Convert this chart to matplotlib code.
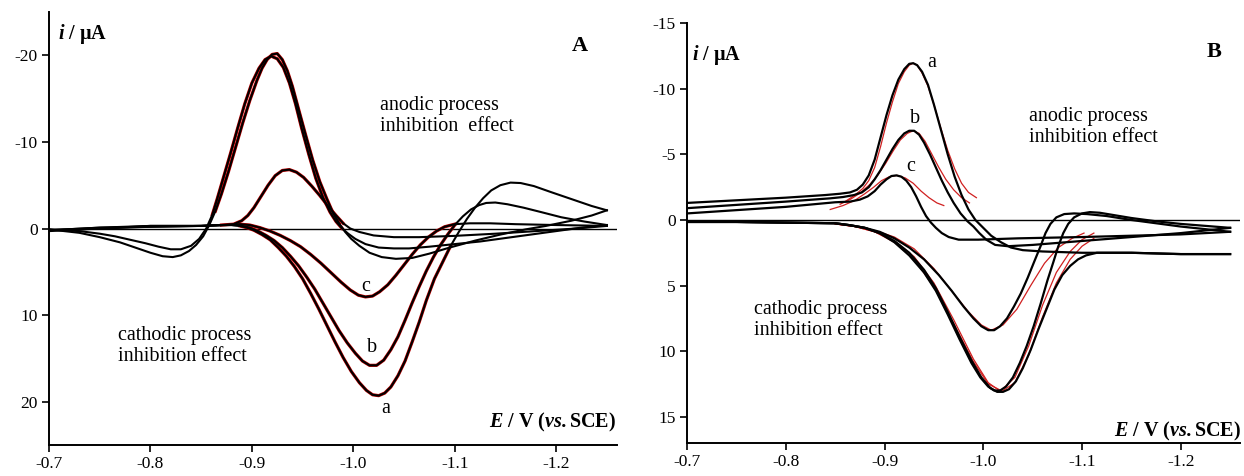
import numpy as np
import matplotlib.pyplot as plt

plt.rcParams['font.family'] = ['Liberation Serif', 'DejaVu Serif']
plt.rcParams['mathtext.fontset'] = 'custom'
plt.rcParams['mathtext.rm'] = 'Liberation Serif'
plt.rcParams['mathtext.it'] = 'Liberation Serif:italic'
plt.rcParams['mathtext.bf'] = 'Liberation Serif:bold'
plt.rcParams['mathtext.bfit'] = 'Liberation Serif:bold:italic'

# ---------------- panel A : potential (V) and current (uA) ----------------
A_a_fwd_E = [-0.700, -0.750, -0.800, -0.850, -0.870, -0.880, -0.888, -0.895, -0.902, -0.910, -0.918, -0.926,
             -0.934, -0.942, -0.950, -0.958, -0.966, -0.974, -0.982, -0.990, -0.998, -1.006, -1.013, -1.019,
             -1.025, -1.031, -1.037, -1.044, -1.051, -1.058, -1.065, -1.072, -1.080, -1.088, -1.096, -1.104,
             -1.112, -1.120, -1.128, -1.136, -1.145, -1.155, -1.165, -1.178, -1.195, -1.215, -1.235, -1.250]
A_a_fwd_i = [0.3, 0.0, -0.3, -0.3, -0.4, -0.4, -0.3, -0.1, 0.2, 0.7, 1.3, 2.2,
             3.2, 4.4, 5.8, 7.5, 9.3, 11.2, 13.1, 14.9, 16.5, 17.8, 18.7, 19.2,
             19.3, 19.0, 18.3, 17.0, 15.3, 13.1, 10.8, 8.3, 5.8, 3.9, 2.0, 0.4,
             -1.1, -2.4, -3.5, -4.4, -5.0, -5.3, -5.25, -4.9, -4.2, -3.4, -2.6, -2.1]
A_a_ret_E = [-1.250, -1.235, -1.215, -1.190, -1.170, -1.145, -1.120, -1.095, -1.075, -1.058, -1.042, -1.028,
             -1.016, -1.006, -0.998, -0.992, -0.986, -0.980, -0.974, -0.967, -0.960, -0.953, -0.946, -0.940,
             -0.935, -0.930, -0.925, -0.920, -0.915, -0.910, -0.905, -0.898, -0.891, -0.884, -0.877, -0.870,
             -0.864, -0.858, -0.852, -0.845, -0.838, -0.830, -0.822, -0.812, -0.800, -0.785, -0.770, -0.750,
             -0.730, -0.700]
A_a_ret_i = [-2.1, -1.5, -0.9, -0.3, 0.1, 0.7, 1.4, 2.2, 2.9, 3.4, 3.5, 3.3,
             2.8, 2.0, 1.2, 0.4, -0.6, -1.8, -3.4, -5.4, -7.9, -10.8, -13.8, -16.4,
             -18.2, -19.5, -20.2, -20.1, -19.5, -18.5, -17.1, -14.8, -12.2, -9.4, -6.6, -4.0,
             -2.0, -0.4, 0.9, 1.9, 2.6, 3.1, 3.3, 3.2, 2.8, 2.2, 1.6, 1.0,
             0.5, 0.1]

A_b_fwd_E = [-0.700, -0.750, -0.800, -0.850, -0.870, -0.880, -0.890, -0.898, -0.906, -0.914, -0.922, -0.930,
             -0.938, -0.946, -0.954, -0.962, -0.970, -0.978, -0.986, -0.994, -1.002, -1.009, -1.016, -1.023,
             -1.030, -1.037, -1.044, -1.051, -1.058, -1.065, -1.072, -1.079, -1.086, -1.093, -1.100, -1.108,
             -1.116, -1.124, -1.131, -1.140, -1.152, -1.168, -1.185, -1.205, -1.228, -1.250]
A_b_fwd_i = [0.2, -0.1, -0.3, -0.3, -0.4, -0.4, -0.3, -0.1, 0.3, 0.8, 1.4, 2.2,
             3.2, 4.3, 5.6, 7.0, 8.6, 10.2, 11.8, 13.2, 14.4, 15.3, 15.8, 15.8,
             15.2, 14.0, 12.5, 10.6, 8.6, 6.7, 4.9, 3.3, 1.9, 0.7, -0.4, -1.4,
             -2.2, -2.7, -2.95, -3.0, -2.8, -2.4, -1.9, -1.3, -0.8, -0.4]
A_b_ret_E = [-1.250, -1.225, -1.200, -1.175, -1.150, -1.125, -1.100, -1.075, -1.055, -1.040, -1.025, -1.012,
             -1.002, -0.995, -0.989, -0.983, -0.977, -0.970, -0.963, -0.956, -0.949, -0.943, -0.937, -0.931,
             -0.925, -0.919, -0.913, -0.907, -0.900, -0.893, -0.886, -0.879, -0.872, -0.866, -0.861, -0.855,
             -0.848, -0.840, -0.830, -0.820, -0.808, -0.795, -0.780, -0.765, -0.750, -0.730, -0.700]
A_b_ret_i = [-0.4, -0.1, 0.3, 0.7, 1.1, 1.5, 1.8, 2.1, 2.3, 2.3, 2.2, 1.8,
             1.2, 0.6, 0.0, -0.8, -1.9, -3.6, -5.8, -8.6, -11.6, -14.4, -16.8, -18.6,
             -19.6, -19.9, -19.5, -18.5, -16.8, -14.4, -11.6, -8.7, -5.9, -3.5, -1.6, 0.0,
             1.2, 2.0, 2.4, 2.4, 2.1, 1.7, 1.3, 0.9, 0.6, 0.3, 0.1]

A_c_fwd_E = [-0.700, -0.750, -0.800, -0.850, -0.875, -0.888, -0.898, -0.908, -0.918, -0.928, -0.938, -0.948,
             -0.958, -0.968, -0.978, -0.988, -0.997, -1.005, -1.012, -1.019, -1.026, -1.034, -1.042, -1.050,
             -1.058, -1.066, -1.074, -1.082, -1.090, -1.100, -1.115, -1.135, -1.160, -1.200, -1.250]
A_c_fwd_i = [0.2, -0.1, -0.2, -0.3, -0.4, -0.5, -0.4, -0.1, 0.3, 0.8, 1.4, 2.1,
             3.0, 4.0, 5.1, 6.2, 7.1, 7.7, 7.9, 7.8, 7.3, 6.5, 5.4, 4.2,
             3.0, 1.9, 1.0, 0.3, -0.2, -0.5, -0.6, -0.6, -0.5, -0.4, -0.3]
A_c_ret_E = [-1.250, -1.220, -1.180, -1.140, -1.100, -1.065, -1.040, -1.020, -1.006, -0.997, -0.990, -0.983,
             -0.975, -0.967, -0.959, -0.951, -0.944, -0.937, -0.930, -0.923, -0.916, -0.909, -0.902, -0.896,
             -0.890, -0.882, -0.870, -0.850, -0.800, -0.750, -0.700]
A_c_ret_i = [-0.3, 0.0, 0.3, 0.6, 0.85, 1.0, 1.0, 0.8, 0.4, 0.0, -0.6, -1.5,
             -2.6, -3.8, -4.9, -5.9, -6.5, -6.8, -6.7, -6.1, -5.0, -3.7, -2.4, -1.5,
             -0.9, -0.5, -0.4, -0.3, -0.2, 0.0, 0.2]

# ---------------- panel B ----------------
B_a_fwd_E = [-0.700, -0.750, -0.800, -0.850, -0.865, -0.880, -0.895, -0.910, -0.925, -0.940, -0.952, -0.964,
             -0.976, -0.988, -0.998, -1.007, -1.014, -1.020, -1.026, -1.033, -1.040, -1.048, -1.056, -1.064,
             -1.072, -1.080, -1.088, -1.096, -1.104, -1.115, -1.150, -1.200, -1.250]
B_a_fwd_i = [0.15, 0.15, 0.2, 0.25, 0.4, 0.6, 1.0, 1.6, 2.5, 3.8, 5.2, 7.0,
             8.9, 10.7, 12.0, 12.8, 13.1, 13.1, 12.9, 12.3, 11.3, 9.9, 8.3, 6.8,
             5.3, 4.2, 3.5, 3.0, 2.7, 2.5, 2.5, 2.6, 2.6]
B_a_ret_E = [-1.250, -1.200, -1.150, -1.100, -1.060, -1.040, -1.028, -1.018, -1.008, -1.000, -0.992, -0.985,
             -0.978, -0.971, -0.964, -0.957, -0.950, -0.944, -0.938, -0.933, -0.929, -0.925, -0.920, -0.914,
             -0.908, -0.902, -0.896, -0.890, -0.884, -0.878, -0.872, -0.865, -0.855, -0.840, -0.800, -0.750,
             -0.700]
B_a_ret_i = [2.6, 2.6, 2.5, 2.5, 2.4, 2.3, 2.1, 1.7, 1.2, 0.6, 0.0, -0.8,
             -1.9, -3.3, -5.0, -6.9, -8.8, -10.3, -11.3, -11.8, -11.95, -11.9, -11.5, -10.7,
             -9.5, -8.0, -6.3, -4.6, -3.4, -2.7, -2.3, -2.1, -2.0, -1.9, -1.7, -1.5,
             -1.3]

B_b_fwd_E = [-0.700, -0.750, -0.800, -0.850, -0.865, -0.880, -0.895, -0.910, -0.925, -0.940, -0.952, -0.964,
             -0.976, -0.988, -0.997, -1.005, -1.011, -1.017, -1.023, -1.030, -1.037, -1.044, -1.051, -1.058,
             -1.065, -1.071, -1.076, -1.081, -1.086, -1.092, -1.100, -1.108, -1.118, -1.130, -1.150, -1.175,
             -1.200, -1.225, -1.250]
B_b_fwd_i = [0.15, 0.15, 0.2, 0.25, 0.4, 0.6, 1.0, 1.7, 2.7, 4.0, 5.4, 7.2,
             9.1, 10.9, 12.0, 12.7, 13.0, 13.0, 12.7, 12.0, 10.9, 9.6, 8.1, 6.4,
             4.6, 3.2, 2.0, 1.0, 0.3, -0.2, -0.5, -0.6, -0.55, -0.4, -0.15, 0.1,
             0.3, 0.45, 0.6]
B_b_ret_E = [-1.250, -1.200, -1.150, -1.100, -1.050, -1.025, -1.012, -1.003, -0.996, -0.990, -0.984, -0.977,
             -0.970, -0.964, -0.958, -0.952, -0.946, -0.940, -0.935, -0.930, -0.925, -0.920, -0.914, -0.908,
             -0.902, -0.896, -0.890, -0.884, -0.877, -0.869, -0.858, -0.845, -0.800, -0.750, -0.700]
B_b_ret_i = [0.6, 1.0, 1.3, 1.6, 1.9, 2.0, 1.9, 1.5, 1.0, 0.5, 0.1, -0.5,
             -1.3, -2.1, -3.0, -4.0, -5.0, -5.9, -6.5, -6.8, -6.8, -6.6, -6.1, -5.4,
             -4.6, -3.8, -3.1, -2.5, -2.1, -1.9, -1.75, -1.65, -1.4, -1.15, -0.9]

B_c_fwd_E = [-0.700, -0.750, -0.800, -0.850, -0.865, -0.880, -0.895, -0.910, -0.925, -0.940, -0.955, -0.968,
             -0.980, -0.990, -0.998, -1.005, -1.011, -1.017, -1.024, -1.031, -1.038, -1.045, -1.052, -1.058,
             -1.063, -1.068, -1.074, -1.082, -1.092, -1.105, -1.125, -1.150, -1.200, -1.250]
B_c_fwd_i = [0.15, 0.15, 0.2, 0.25, 0.4, 0.6, 0.9, 1.4, 2.1, 3.0, 4.2, 5.4,
             6.6, 7.5, 8.1, 8.4, 8.4, 8.1, 7.5, 6.6, 5.6, 4.4, 3.1, 2.0,
             1.0, 0.3, -0.2, -0.45, -0.5, -0.45, -0.3, 0.0, 0.5, 0.9]
B_c_ret_E = [-1.250, -1.200, -1.100, -1.035, -0.995, -0.975, -0.965, -0.958, -0.952, -0.947, -0.942, -0.937,
             -0.932, -0.927, -0.922, -0.917, -0.912, -0.907, -0.902, -0.896, -0.890, -0.883, -0.875, -0.865,
             -0.850, -0.800, -0.750, -0.700]
B_c_ret_i = [0.9, 1.1, 1.3, 1.4, 1.5, 1.5, 1.3, 1.0, 0.6, 0.2, -0.3, -1.0,
             -1.8, -2.5, -3.0, -3.3, -3.4, -3.35, -3.1, -2.7, -2.2, -1.8, -1.55, -1.4,
             -1.35, -1.0, -0.75, -0.5]

# fitted (red) peaks in panel B
fitB_a_an_E = [-0.860, -0.870, -0.878, -0.884, -0.890, -0.896, -0.902, -0.908, -0.914, -0.920, -0.925, -0.929,
               -0.933, -0.938, -0.944, -0.950, -0.957, -0.964, -0.971, -0.978, -0.985, -0.993]
fitB_a_an_i = [-1.4, -1.9, -2.4, -3.0, -4.0, -5.6, -7.4, -9.0, -10.4, -11.3, -11.8, -11.95,
               -11.8, -11.2, -10.2, -8.8, -7.0, -5.3, -3.9, -2.8, -2.1, -1.7]
fitB_b_an_E = [-0.855, -0.866, -0.876, -0.885, -0.893, -0.901, -0.909, -0.916, -0.923, -0.929, -0.935, -0.941,
               -0.948, -0.955, -0.962, -0.970, -0.978, -0.986]
fitB_b_an_i = [-1.2, -1.6, -2.1, -2.7, -3.4, -4.3, -5.3, -6.1, -6.6, -6.8, -6.6, -6.0,
               -5.0, -4.0, -3.1, -2.3, -1.7, -1.3]
fitB_c_an_E = [-0.845, -0.858, -0.870, -0.880, -0.889, -0.897, -0.905, -0.913, -0.921, -0.929, -0.937, -0.945,
               -0.953, -0.960]
fitB_c_an_i = [-0.8, -1.1, -1.5, -2.0, -2.5, -3.0, -3.3, -3.4, -3.2, -2.8, -2.2, -1.7,
               -1.3, -1.1]
fitB_ca_E = [-0.850, -0.870, -0.890, -0.910, -0.930, -0.950, -0.970, -0.990, -1.005, -1.018, -1.032, -1.046,
             -1.060, -1.074, -1.088, -1.100, -1.112]
fitB_a_ca_i = [0.3, 0.5, 0.9, 1.6, 2.8, 4.8, 7.6, 10.6, 12.4, 13.1, 12.4, 10.3, 7.4, 4.8, 3.0, 2.0, 1.4]
fitB_b_ca_i = [0.3, 0.5, 0.9, 1.7, 3.0, 5.1, 7.9, 10.8, 12.5, 13.0, 12.0, 9.6, 6.5, 4.0, 2.4, 1.5, 1.0]
fitB_c_ca_E = [-0.850, -0.870, -0.890, -0.910, -0.930, -0.950, -0.970, -0.985, -0.998, -1.008, -1.020, -1.034,
               -1.048, -1.062, -1.076, -1.090, -1.102]
fitB_c_ca_i = [0.3, 0.5, 0.8, 1.3, 2.2, 3.7, 5.6, 7.0, 8.0, 8.4, 8.0, 6.8, 5.0, 3.3, 2.1, 1.4, 1.0]

x_ticks = [-0.7, -0.8, -0.9, -1.0, -1.1, -1.2]
x_labels = ['-0.7', '-0.8', '-0.9', '-1.0', '-1.1', '-1.2']
A_y_ticks = [-20, -10, 0, 10, 20]
A_y_labels = ['-20', '-10', '0', '10', '20']
B_y_ticks = [-15, -10, -5, 0, 5, 10, 15]
B_y_labels = ['-15', '-10', '-5', '0', '5', '10', '15']

fig = plt.figure(figsize=(12.44, 4.76), dpi=100)
axA = fig.add_axes([0.0394, 0.0651, 0.4566, 0.9097])
axB = fig.add_axes([0.5523, 0.0693, 0.4445, 0.8820])


def style(ax, ylim, yt, ytl):
    ax.set_xlim(-0.7, -1.26)
    ax.set_ylim(*ylim)
    ax.set_xticks(x_ticks)
    ax.set_xticklabels(x_labels)
    ax.set_yticks(yt)
    ax.set_yticklabels(ytl)
    for s in ['top', 'right']:
        ax.spines[s].set_visible(False)
    for s in ['left', 'bottom']:
        ax.spines[s].set_linewidth(1.4)
    ax.tick_params(direction='out', length=5, width=1.2, labelsize=12.5, pad=3)
    ax.axhline(0, color='black', lw=1.0, zorder=1)


def red_window(ax, E, i, lo, hi):
    E = np.array(E)
    i = np.array(i)
    m = (E <= lo) & (E >= hi)
    ax.plot(E[m], i[m], color='#c00000', lw=2.3, zorder=2)


# panel A
style(axA, (25, -25), A_y_ticks, A_y_labels)
for fE, fi, rE, ri in [(A_a_fwd_E, A_a_fwd_i, A_a_ret_E, A_a_ret_i),
                       (A_b_fwd_E, A_b_fwd_i, A_b_ret_E, A_b_ret_i),
                       (A_c_fwd_E, A_c_fwd_i, A_c_ret_E, A_c_ret_i)]:
    red_window(axA, fE, fi, -0.885, -1.10)
    red_window(axA, rE, ri, -0.86, -0.99)
    axA.plot(fE, fi, color='black', lw=1.5, zorder=3)
    axA.plot(rE, ri, color='black', lw=1.5, zorder=3)

# panel B
style(axB, (17, -15), B_y_ticks, B_y_labels)
for fE, fi in [(fitB_a_an_E, fitB_a_an_i), (fitB_b_an_E, fitB_b_an_i), (fitB_c_an_E, fitB_c_an_i),
               (fitB_ca_E, fitB_a_ca_i), (fitB_ca_E, fitB_b_ca_i), (fitB_c_ca_E, fitB_c_ca_i)]:
    axB.plot(fE, fi, color='#d02020', lw=0.9, zorder=2)
for fE, fi, rE, ri in [(B_a_fwd_E, B_a_fwd_i, B_a_ret_E, B_a_ret_i),
                       (B_b_fwd_E, B_b_fwd_i, B_b_ret_E, B_b_ret_i),
                       (B_c_fwd_E, B_c_fwd_i, B_c_ret_E, B_c_ret_i)]:
    axB.plot(fE, fi, color='black', lw=1.6, zorder=3)
    axB.plot(rE, ri, color='black', lw=1.6, zorder=3)

fs = 14.5
ylab = r'$\mathbfit{i}$ / μA'
xlab = r'$\mathbfit{E}$ / V ($\mathbfit{vs.}$SCE)'

axA.text(-0.709, -22.5, ylab, fontsize=fs, fontweight='bold', ha='left', va='center')
axA.text(-1.223, -21.1, 'A', fontsize=16, fontweight='bold', ha='center', va='center')
axA.text(-1.026, -13.0, 'anodic process\ninhibition  effect', fontsize=fs, ha='left', va='center',
         linespacing=1.15)
axA.text(-0.768, 13.6, 'cathodic process\ninhibition effect', fontsize=fs, ha='left', va='center',
         linespacing=1.15)
axA.text(-1.259, 22.4, xlab, fontsize=fs, fontweight='bold', ha='right', va='center')
for lab, x, y in [('c', -1.012, 6.7), ('b', -1.018, 13.7), ('a', -1.032, 20.8)]:
    axA.text(x, y, lab, fontsize=fs, ha='center', va='center')

axB.text(-0.705, -12.6, ylab, fontsize=fs, fontweight='bold', ha='left', va='center')
axB.text(-1.234, -12.8, 'B', fontsize=16, fontweight='bold', ha='center', va='center')
axB.text(-1.046, -7.1, 'anodic process\ninhibition effect', fontsize=fs, ha='left', va='center',
         linespacing=1.15)
axB.text(-0.768, 7.6, 'cathodic process\ninhibition effect', fontsize=fs, ha='left', va='center',
         linespacing=1.15)
axB.text(-1.261, 16.1, xlab, fontsize=fs, fontweight='bold', ha='right', va='center')
for lab, x, y in [('a', -0.948, -12.0), ('b', -0.931, -7.7), ('c', -0.926, -4.1)]:
    axB.text(x, y, lab, fontsize=fs, ha='center', va='center')

fig.savefig('out.png', dpi=100)
